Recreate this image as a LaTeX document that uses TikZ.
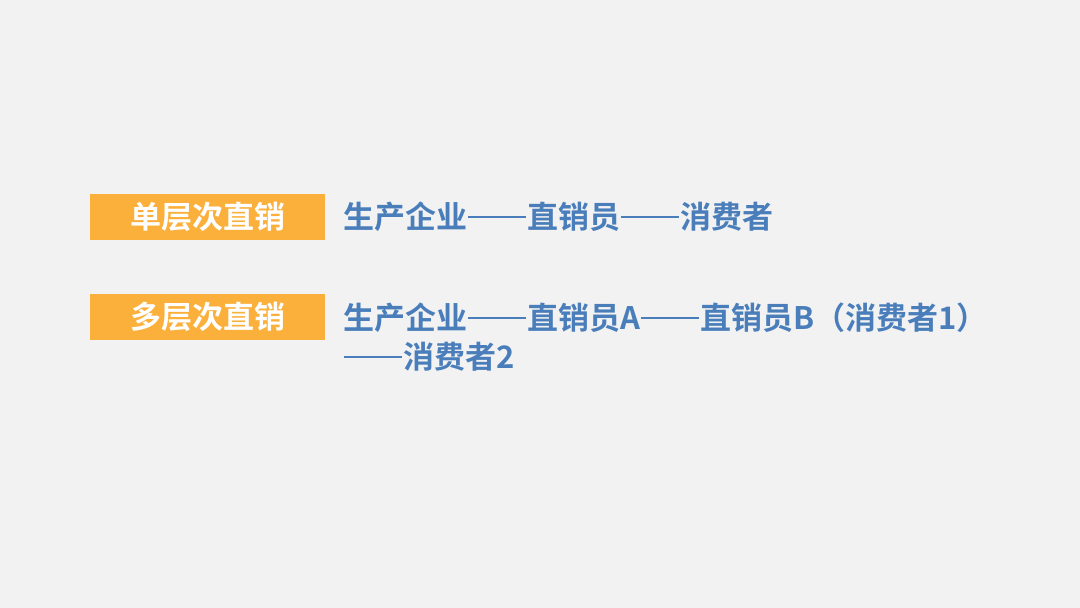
\documentclass[tikz,border=0pt]{standalone}
\usepackage{fontspec}
\setmainfont{Noto Sans CJK SC Bold}
\definecolor{bg}{HTML}{F2F2F2}
\definecolor{orng}{HTML}{FBB03B}
\definecolor{blu}{HTML}{4A7EBB}
\newcommand{\mydsh}{\kern1pt\rule[10.5pt]{58pt}{2.4pt}\kern1pt}
\tikzset{tag/.style={fill=orng,minimum width=235pt,minimum height=46pt,inner sep=0pt,text=white,font=\fontsize{31}{36}\selectfont},
txt/.style={anchor=west,inner sep=0pt,text=blu,font=\fontsize{31}{36}\selectfont}}
\begin{document}
\begin{tikzpicture}[x=1pt,y=1pt]
\fill[bg] (0,0) rectangle (1080,608);
\useasboundingbox (0,0) rectangle (1080,608);
\node[tag] (t1) at (207.5,391) {单层次直销};
\node[tag] (t2) at (207.5,291) {多层次直销};
\node[txt] (l1) at (343,391) {生产企业\mydsh 直销员\mydsh 消费者};
\node[txt] (l2) at (343,290) {生产企业\mydsh 直销员A\mydsh 直销员B（消费者1）};
\node[txt] (l3) at (343,251) {\mydsh 消费者2};
\end{tikzpicture}
\end{document}
